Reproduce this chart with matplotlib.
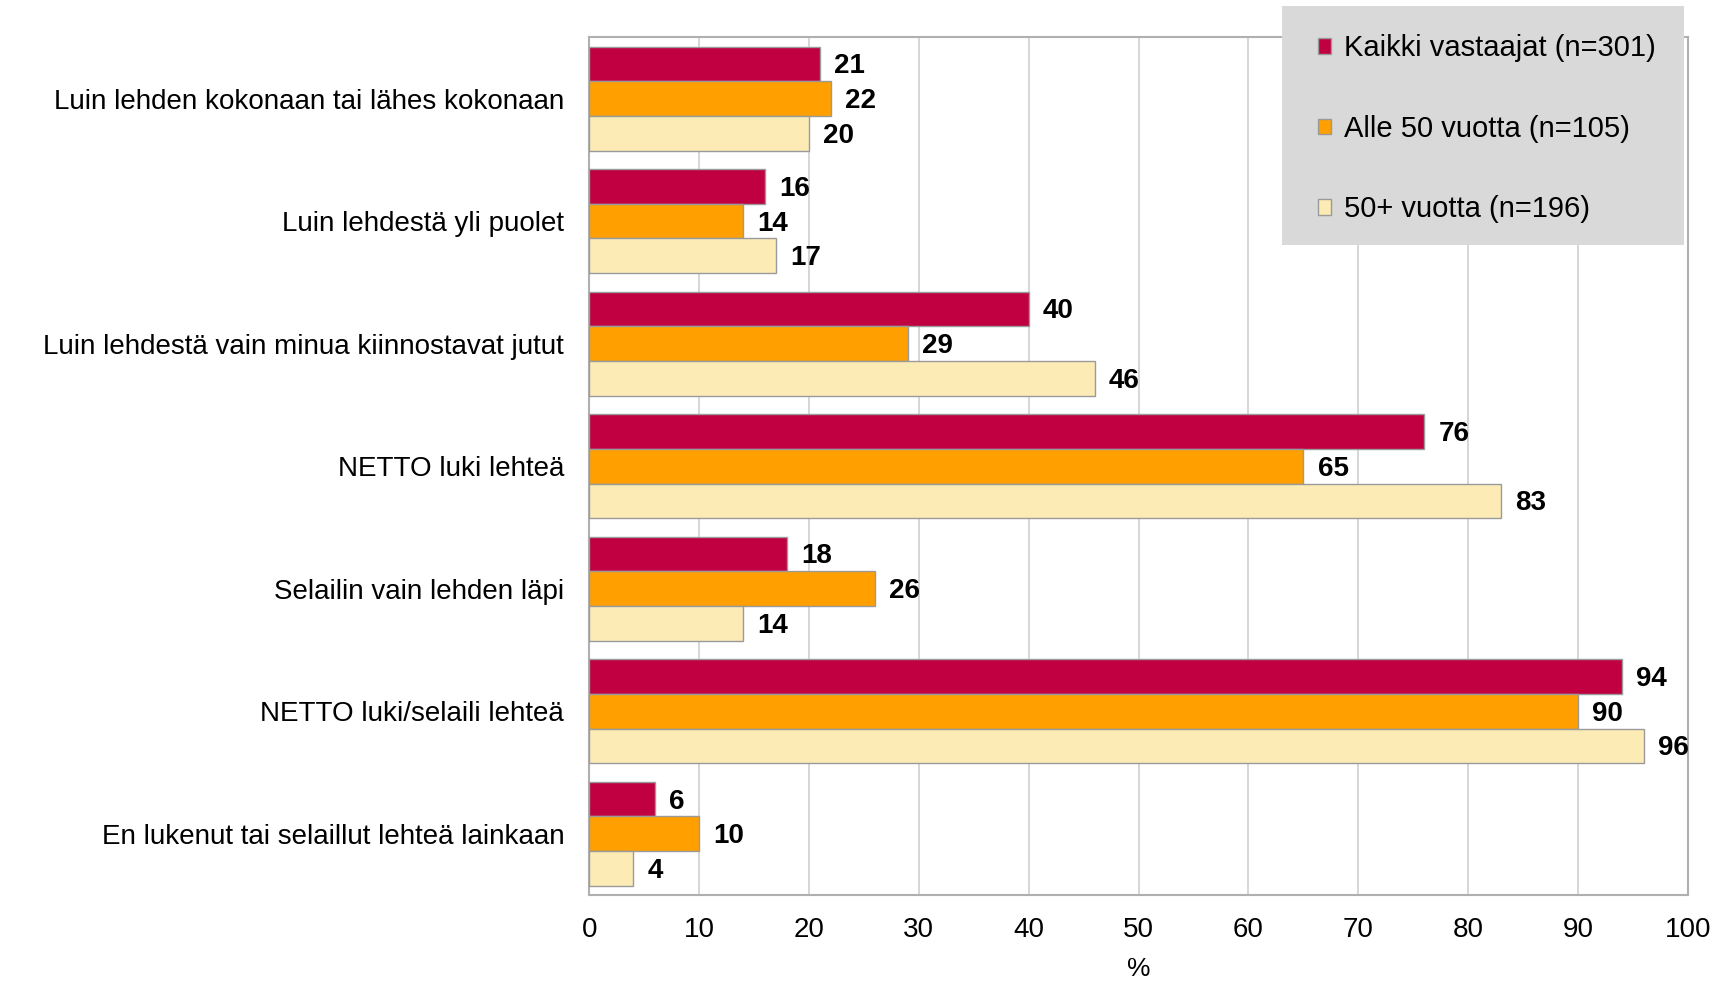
import numpy as np
import matplotlib.pyplot as plt
from matplotlib.patches import Rectangle

plt.rcParams['font.family'] = ['Liberation Sans', 'DejaVu Sans']

# Data
categories = [
    'Luin lehden kokonaan tai lähes kokonaan',
    'Luin lehdestä yli puolet',
    'Luin lehdestä vain minua kiinnostavat jutut',
    'NETTO luki lehteä',
    'Selailin vain lehden läpi',
    'NETTO luki/selaili lehteä',
    'En lukenut tai selaillut lehteä lainkaan',
]
kaikki = [21, 16, 40, 76, 18, 94, 6]
alle50 = [22, 14, 29, 65, 26, 90, 10]
yli50 = [20, 17, 46, 83, 14, 96, 4]

series_names = ['Kaikki vastaajat (n=301)', 'Alle 50 vuotta (n=105)', '50+ vuotta (n=196)']
colors = ['#C00040', '#FFA000', '#FCEBB5']

fig = plt.figure(figsize=(17.33, 9.88), dpi=100)
ax = fig.add_axes([0.340, 0.0941, 0.634, 0.8681])

y = np.arange(len(categories))
h = 0.283
handles = []
for i, (vals, name, col) in enumerate(zip([kaikki, alle50, yli50], series_names, colors)):
    pos = y + (i - 1) * h
    b = ax.barh(pos, vals, height=h, color=col, edgecolor='#9a9a9a', linewidth=1.0,
                label=name, zorder=3)
    handles.append(b)
    for p, v in zip(pos, vals):
        ax.text(v + 1.3, p + 0.02, str(v), va='center', ha='left', fontsize=20,
                fontweight='bold', color='black', zorder=4)

ax.set_xlim(0, 100)
ax.set_ylim(len(categories) - 0.5, -0.5)
ax.set_xticks(np.arange(0, 101, 10))
ax.set_yticks(y)
ax.set_yticklabels(categories, fontsize=20)
ax.tick_params(axis='x', labelsize=20, length=0, pad=16)
ax.tick_params(axis='y', length=0, pad=18)
ax.xaxis.grid(True, color='#d0d0d0', linewidth=1.2, zorder=0)
for s in ax.spines.values():
    s.set_color('#b0b0b0')
    s.set_linewidth(1.5)
ax.set_xlabel('%', fontsize=19, labelpad=10)

# legend box
fig.patches.append(Rectangle((0.740, 0.752), 0.232, 0.242, transform=fig.transFigure,
                             facecolor='#d9d9d9', edgecolor='none', zorder=5))
leg = fig.legend(handles=handles, labels=series_names, loc='upper left',
                 bbox_to_anchor=(0.754, 0.977), frameon=False, fontsize=21,
                 handlelength=0.43, handleheight=0.43, handletextpad=0.45,
                 labelspacing=1.8, borderaxespad=0)
leg.set_zorder(6)

fig.savefig('out.png', dpi=100)
